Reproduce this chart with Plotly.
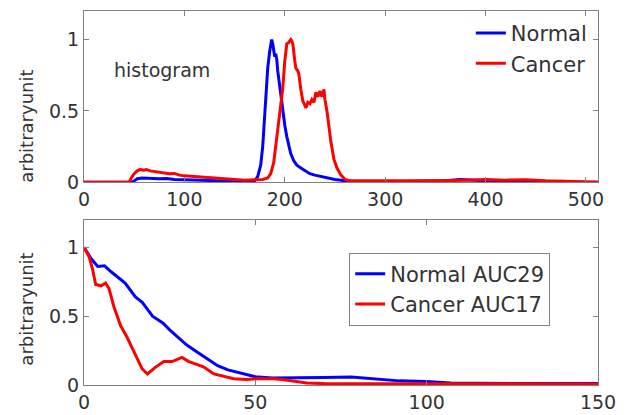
import plotly.graph_objects as go

# ---------------- data ----------------
hist_normal_x = [0, 48, 50, 53, 58, 63, 68, 75, 82, 90, 100, 110, 120, 135, 150, 165, 170, 173, 176, 178,
                 180, 181, 183, 185, 187, 188, 189, 190, 191, 192, 193, 194, 196, 198, 200, 202, 204, 206,
                 209, 212, 216, 220, 225, 230, 236, 242, 250, 260, 270, 300, 340, 360, 375, 385, 400, 420,
                 460, 512]
hist_normal_y = [0, 0, 0.01, 0.025, 0.03, 0.028, 0.03, 0.025, 0.027, 0.02, 0.018, 0.015, 0.012, 0.01, 0.008,
                 0.008, 0.01, 0.04, 0.12, 0.25, 0.45, 0.62, 0.8, 0.92, 1.0, 0.97, 0.9, 0.88, 0.9, 0.86, 0.78,
                 0.72, 0.62, 0.5, 0.4, 0.32, 0.25, 0.2, 0.15, 0.12, 0.1, 0.08, 0.06, 0.05, 0.04, 0.03, 0.02,
                 0.01, 0.005, 0.003, 0.005, 0.01, 0.02, 0.015, 0.01, 0.005, 0.003, 0]

hist_cancer_x = [0, 45, 47, 50, 53, 56, 59, 62, 66, 70, 75, 80, 85, 90, 95, 100, 110, 120, 130, 140, 150,
                 160, 170, 178, 183, 186, 189, 192, 194, 196, 198, 200, 202, 204, 206, 207, 208, 210, 211,
                 213, 214, 216, 218, 220, 221, 223, 225, 227, 229, 231, 233, 235, 237, 239, 240, 242, 244,
                 246, 249, 252, 256, 260, 265, 300, 350, 380, 400, 420, 440, 460, 490, 512]
hist_cancer_y = [0, 0, 0.03, 0.06, 0.08, 0.09, 0.085, 0.09, 0.08, 0.075, 0.07, 0.065, 0.06, 0.062, 0.05,
                 0.045, 0.04, 0.03, 0.025, 0.02, 0.018, 0.015, 0.018, 0.02, 0.03, 0.06, 0.14, 0.3, 0.43,
                 0.55, 0.66, 0.85, 0.97, 0.98, 1.0, 0.99, 0.97, 0.85, 0.8, 0.78, 0.76, 0.65, 0.57, 0.54,
                 0.52, 0.56, 0.55, 0.58, 0.56, 0.63, 0.6, 0.64, 0.6, 0.65, 0.58, 0.5, 0.37, 0.28, 0.16,
                 0.1, 0.05, 0.02, 0.01, 0.008, 0.01, 0.015, 0.02, 0.015, 0.018, 0.01, 0.005, 0]

acf_normal_x = [0, 2, 4, 6, 8, 10, 12, 15, 17, 20, 23, 25, 28, 30, 33, 36, 39, 42, 45, 48, 50, 55, 60, 70,
                78, 85, 92, 100, 107, 115, 130, 150]
acf_normal_y = [1, 0.92, 0.86, 0.865, 0.82, 0.78, 0.74, 0.64, 0.6, 0.5, 0.45, 0.4, 0.33, 0.29, 0.24, 0.19,
                0.14, 0.11, 0.09, 0.07, 0.06, 0.05, 0.05, 0.055, 0.058, 0.045, 0.03, 0.025, 0.015, 0.012,
                0.01, 0.01]

acf_cancer_x = [0, 1.5, 2.5, 3.4, 5, 6.3, 7.3, 8.7, 10.7, 12.5, 14.6, 16.9, 18.5, 20.9, 23.3, 25.7, 28.6,
                30.6, 32.9, 35, 37.9, 40.8, 43.7, 47.5, 50, 55, 58, 62, 65, 70, 80, 100, 120, 150]
acf_cancer_y = [1, 0.93, 0.84, 0.73, 0.72, 0.74, 0.7, 0.57, 0.43, 0.35, 0.24, 0.12, 0.08, 0.13, 0.17, 0.17,
                0.2, 0.17, 0.15, 0.13, 0.08, 0.06, 0.045, 0.04, 0.045, 0.045, 0.04, 0.025, 0.015, 0.01,
                0.01, 0.008, 0.008, 0.008]

top_xticks = [0, 100, 200, 300, 400, 500]
bottom_xticks = [0, 50, 100, 150]
yticks = [0, 0.5, 1]
ytick_text = ["0", "0.5", "1"]

# ---------------- figure ----------------
BLUE = "#0000FF"
RED = "#FF0000"
TXT = "#333333"
AX = "#808080"
FONT = "DejaVu Sans"

fig = go.Figure()
fig.add_trace(go.Scatter(x=hist_normal_x, y=hist_normal_y, mode="lines", name="Normal",
                         line=dict(color=BLUE, width=3), xaxis="x", yaxis="y", legend="legend"))
fig.add_trace(go.Scatter(x=hist_cancer_x, y=hist_cancer_y, mode="lines", name="Cancer",
                         line=dict(color=RED, width=3), xaxis="x", yaxis="y", legend="legend"))
fig.add_trace(go.Scatter(x=acf_normal_x, y=acf_normal_y, mode="lines", name="Normal AUC29",
                         line=dict(color=BLUE, width=3), xaxis="x2", yaxis="y2", legend="legend2"))
fig.add_trace(go.Scatter(x=acf_cancer_x, y=acf_cancer_y, mode="lines", name="Cancer AUC17",
                         line=dict(color=RED, width=3), xaxis="x2", yaxis="y2", legend="legend2"))

axis_common = dict(showline=True, linecolor=AX, linewidth=1, mirror="ticks", ticks="inside",
                   ticklen=5, tickcolor=AX, showgrid=False, zeroline=False,
                   tickfont=dict(family=FONT, size=19, color=TXT))

fig.update_layout(
    width=623, height=407,
    margin=dict(l=76, r=33, t=2, b=27),
    paper_bgcolor="white", plot_bgcolor="white",
    font=dict(family=FONT, color=TXT),
    xaxis=dict(domain=[0, 1], anchor="y", range=[0, 512], tickvals=top_xticks, **axis_common),
    yaxis=dict(domain=[0.542, 1], anchor="x", range=[0, 1.2], tickvals=yticks, ticktext=ytick_text,
               **axis_common),
    xaxis2=dict(domain=[0, 1], anchor="y2", range=[0, 150], tickvals=bottom_xticks, **axis_common),
    yaxis2=dict(domain=[0, 0.442], anchor="x2", range=[0, 1.2], tickvals=yticks, ticktext=ytick_text,
                **axis_common),
    legend=dict(x=0.988, y=0.995, xanchor="right", yanchor="top", bgcolor="rgba(0,0,0,0)",
                borderwidth=0, font=dict(family=FONT, size=21, color=TXT), itemwidth=30),
    legend2=dict(x=0.516, y=0.354, xanchor="left", yanchor="top", bgcolor="white",
                 bordercolor=AX, borderwidth=1, font=dict(family=FONT, size=21, color=TXT),
                 itemwidth=30, tracegroupgap=0),
    annotations=[
        dict(text="histogram", xref="paper", yref="paper", x=0.152, y=0.841, showarrow=False,
             xanchor="center", yanchor="middle", font=dict(family=FONT, size=19, color=TXT)),
        dict(text="arbitraryunit", xref="paper", yref="paper", x=-0.111, y=0.693, showarrow=False,
             xanchor="center", yanchor="middle", textangle=-90,
             font=dict(family=FONT, size=18, color=TXT)),
        dict(text="arbitraryunit", xref="paper", yref="paper", x=-0.111, y=0.204, showarrow=False,
             xanchor="center", yanchor="middle", textangle=-90,
             font=dict(family=FONT, size=18, color=TXT)),
    ],
)

fig.write_html("out.html")
